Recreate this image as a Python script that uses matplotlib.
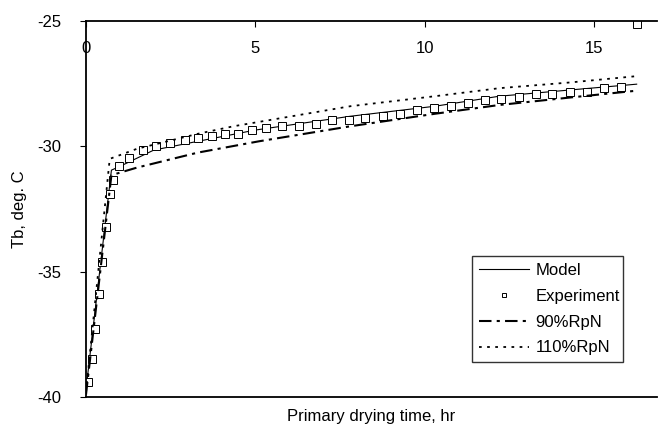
import matplotlib.pyplot as plt
import numpy as np

plt.rcParams['font.family'] = ['Liberation Sans', 'DejaVu Sans']
plt.rcParams['axes.unicode_minus'] = False

# experiment (squares)
expTime = [0.0, 0.07, 0.19, 0.27, 0.38, 0.48, 0.59, 0.70, 0.79, 0.98, 1.28, 1.67, 2.08,
           2.48, 2.91, 3.31, 3.71, 4.10, 4.49, 4.91, 5.30, 5.79, 6.28, 6.78, 7.27, 7.76,
           8.23, 8.77, 9.28, 9.77, 10.27, 10.76, 11.28, 11.77, 12.26, 12.77, 13.27, 13.76,
           14.28, 14.79, 15.29, 15.78, 16.26]
expTb = [-39.4, -39.4, -38.5, -37.3, -35.9, -34.6, -33.2, -31.9, -31.35, -30.8, -30.45,
         -30.16, -29.99, -29.85, -29.76, -29.65, -29.59, -29.49, -29.49, -29.35, -29.27,
         -29.19, -29.19, -29.11, -28.96, -28.96, -28.86, -28.78, -28.70, -28.56, -28.46,
         -28.39, -28.28, -28.16, -28.10, -28.02, -27.92, -27.92, -27.83, -27.82, -27.69,
         -27.62, -25.1]

# model
modTime = [0.0, 0.75, 1.0, 2.0, 3.3, 5.0, 7.8, 10.3, 12.2, 14.3, 16.25]
modTb = [-39.7, -30.95, -30.8, -30.15, -29.8, -29.35, -28.8, -28.4, -28.0, -27.75, -27.52]

# 90% RpN
lowTime = [0.0, 0.75, 1.5, 3.3, 5.1, 7.8, 10.3, 12.2, 14.3, 16.25]
lowTb = [-39.9, -31.15, -30.85, -30.25, -29.8, -29.2, -28.7, -28.35, -28.05, -27.78]

# 110% RpN
highTime = [0.0, 0.7, 1.5, 3.3, 4.35, 7.8, 10.3, 12.2, 14.3, 16.25]
highTb = [-39.8, -30.5, -30.1, -29.5, -29.2, -28.4, -28.0, -27.68, -27.45, -27.2]

fs = 12

fig = plt.figure(figsize=(6.58, 4.34), dpi=100)
ax = fig.add_axes([86/658, 1-397/434, 571/658, 376/434])

ax.plot(modTime, modTb, color='k', lw=0.8, label='Model')
ax.plot(expTime, expTb, ls='none', marker='s', ms=5.5, mfc='white', mec='k', mew=0.7,
        label='Experiment')
ax.plot(lowTime, lowTb, color='k', lw=1.5, dashes=(6, 2.5, 1.5, 2.5), label='90%RpN')
ax.plot(highTime, highTb, color='k', lw=1.3, dashes=(1.5, 3), label='110%RpN')

ax.set_xlim(0, 16.85)
ax.set_ylim(-40, -25)
ax.set_xticks([0, 5, 10, 15])
ax.set_yticks([-40, -35, -30, -25])

ax.spines['right'].set_visible(False)
for s in ['top', 'bottom', 'left']:
    ax.spines[s].set_linewidth(1.3)

ax.tick_params(axis='x', top=True, labeltop=True, bottom=False, labelbottom=False,
               direction='in', length=4, pad=-25, labelsize=fs)
ax.tick_params(axis='y', direction='out', length=4, pad=14, labelsize=fs)

ax.set_xlabel('Primary drying time, hr', fontsize=fs, labelpad=9)
ax.set_ylabel('Tb, deg. C', fontsize=fs, labelpad=7)

leg = ax.legend(loc='lower left', bbox_to_anchor=(0.676, 0.093, 0.264, 0.287), mode='expand',
                fontsize=fs, frameon=True, fancybox=False, handlelength=3.0,
                handletextpad=0.4, labelspacing=0.65, markerscale=0.6, borderaxespad=0,
                borderpad=0.4)
leg.get_frame().set_edgecolor('k')
leg.get_frame().set_linewidth(1.0)

fig.savefig('out.png', dpi=100)
